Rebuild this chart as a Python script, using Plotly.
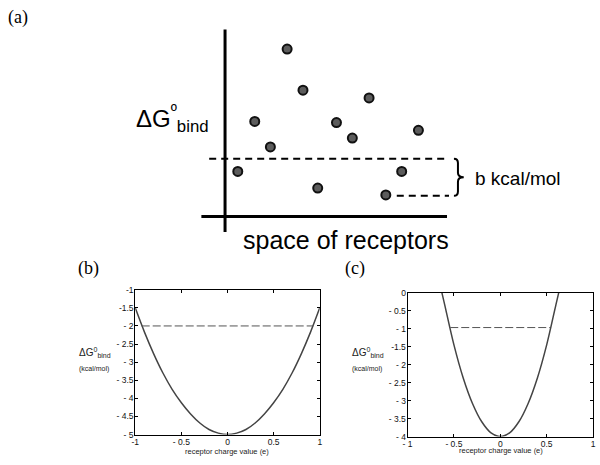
import plotly.graph_objects as go

W, H = 600, 465

# ---- panel (a): schematic of binding free energies over receptor space
receptor_pos = [2.78, 3.49, 1.33, 6.45, 4.99, 8.66, 5.70, 2.03, 0.57, 7.91, 4.15, 7.20]
dg_bind = [7.56, 5.70, 4.29, 5.35, 4.24, 3.89, 3.54, 3.14, 2.03, 2.03, 1.28, 0.97]
dg_best = 0.93        # lower dashed line (best binder)
dg_cutoff = 2.61      # upper dashed line (best + b)

# ---- panel (b): receptor charge scan, cutoff -2 kcal/mol
charge_b = [-1.0, -0.9, -0.8, -0.7, -0.6, -0.5, -0.4, -0.3, -0.2, -0.1, 0.0,
            0.1, 0.2, 0.3, 0.4, 0.5, 0.6, 0.7, 0.8, 0.9, 1.0]
dg_b = [-1.50, -2.17, -2.77, -3.30, -3.75, -4.12, -4.43, -4.68, -4.86, -4.96, -5.00,
        -4.96, -4.86, -4.68, -4.43, -4.12, -3.75, -3.30, -2.77, -2.17, -1.50]
cut_b_x = [-0.93, 0.93]
cut_b_y = [-2.0, -2.0]

# ---- panel (c): narrower well, cutoff about -1 kcal/mol
charge_c = [-0.63, -0.6, -0.5, -0.4, -0.3, -0.2, -0.1, 0.0, 0.1, 0.2, 0.3, 0.4, 0.5, 0.6, 0.63]
dg_c = [0.0, -0.33, -1.45, -2.37, -3.08, -3.59, -3.90, -4.00, -3.90, -3.59, -3.08, -2.37,
        -1.45, -0.33, 0.0]
cut_c_x = [-0.54, 0.54]
cut_c_y = [-0.97, -0.97]

ticks_x = [-1, -0.5, 0, 0.5, 1]
ticktext_xb = ["-1", "- 0.5", "0", "0.5", "1"]
ticktext_xc = ["- 1", "- 0.5", "0", "0.5", "1"]
ticks_yb = [-5, -4.5, -4, -3.5, -3, -2.5, -2, -1.5, -1]
ticktext_yb = ["- 5", "- 4.5", "- 4", "- 3.5", "- 3", "- 2.5", "- 2", "-1.5", "-1"]
ticks_yc = [-4, -3.5, -3, -2.5, -2, -1.5, -1, -0.5, 0]
ticktext_yc = ["- 4", "- 3.5", "- 3", "- 2.5", "- 2", "-1.5", "- 1", "- 0.5", "0"]


def px_x(p):
    return p / W


def px_y(p):
    return 1 - p / H


SANS = "Liberation Sans, Arial, sans-serif"
SERIF = "Liberation Serif, Times New Roman, serif"

fig = go.Figure()

# panel (a) axis lines
fig.add_trace(go.Scatter(x=[0, 0], y=[-0.71, 8.44], mode="lines",
                         line=dict(color="black", width=3), xaxis="x", yaxis="y",
                         showlegend=False, hoverinfo="skip"))
fig.add_trace(go.Scatter(x=[-1.06, 9.94], y=[0, 0], mode="lines",
                         line=dict(color="black", width=3), xaxis="x", yaxis="y",
                         showlegend=False, hoverinfo="skip"))
# dashed lines
fig.add_trace(go.Scatter(x=[-0.71, 10.03], y=[dg_cutoff, dg_cutoff], mode="lines",
                         line=dict(color="black", width=2, dash="7px,5px"),
                         xaxis="x", yaxis="y", showlegend=False, hoverinfo="skip"))
fig.add_trace(go.Scatter(x=[7.69, 10.03], y=[dg_best, dg_best], mode="lines",
                         line=dict(color="black", width=2, dash="7px,5px"),
                         xaxis="x", yaxis="y", showlegend=False, hoverinfo="skip"))
# dots
fig.add_trace(go.Scatter(x=receptor_pos, y=dg_bind, mode="markers",
                         marker=dict(size=9, color="#5c5c5c",
                                     line=dict(color="#111111", width=2)),
                         xaxis="x", yaxis="y", showlegend=False))

# panel (b)
fig.add_trace(go.Scatter(x=charge_b, y=dg_b, mode="lines", line_shape="spline",
                         line=dict(color="#444444", width=1.5), xaxis="x2", yaxis="y2",
                         showlegend=False))
fig.add_trace(go.Scatter(x=cut_b_x, y=cut_b_y, mode="lines",
                         line=dict(color="#555555", width=1, dash="8px,3px"),
                         xaxis="x2", yaxis="y2", showlegend=False))

# panel (c)
fig.add_trace(go.Scatter(x=charge_c, y=dg_c, mode="lines", line_shape="spline",
                         line=dict(color="#444444", width=1.5), xaxis="x3", yaxis="y3",
                         showlegend=False))
fig.add_trace(go.Scatter(x=cut_c_x, y=cut_c_y, mode="lines",
                         line=dict(color="#555555", width=1, dash="8px,3px"),
                         xaxis="x3", yaxis="y3", showlegend=False))

# brace for the b kcal/mol window
x0, x1, x2 = 10.25, 10.43, 10.69
yt, yb = dg_cutoff, dg_best
ym = (yt + yb) / 2
d = 0.2
brace = (f"M {x0},{yt} Q {x1},{yt} {x1},{yt - d} L {x1},{ym + d} "
         f"Q {x1},{ym} {x2},{ym} Q {x1},{ym} {x1},{ym - d} "
         f"L {x1},{yb + d} Q {x1},{yb} {x0},{yb}")
fig.add_shape(type="path", path=brace, xref="x", yref="y",
              line=dict(color="black", width=2))

hidden = dict(visible=False, showgrid=False, zeroline=False, fixedrange=True)
box = dict(showline=True, linecolor="black", linewidth=1, mirror="ticks",
           ticks="inside", ticklen=3, tickcolor="black", showgrid=False,
           zeroline=False, tickfont=dict(family=SANS, size=8.5, color="#111111"))

fig.update_layout(
    width=W, height=H,
    margin=dict(l=0, r=0, t=0, b=0),
    paper_bgcolor="white", plot_bgcolor="rgba(0,0,0,0)",
    xaxis=dict(domain=[px_x(193.6), px_x(494.6)], range=[-1.3, 12], **hidden),
    yaxis=dict(domain=[px_y(236.4), px_y(21.5)], range=[-0.9, 8.6], **hidden),
    xaxis2=dict(domain=[px_x(132), px_x(319)], range=[-1, 1], anchor="y2",
                tickvals=ticks_x, ticktext=ticktext_xb, ticklabelstandoff=-1, **box),
    yaxis2=dict(domain=[px_y(439), px_y(291)], range=[-5, -1], anchor="x2",
                tickvals=ticks_yb, ticktext=ticktext_yb, ticklabelstandoff=-1, **box),
    xaxis3=dict(domain=[px_x(408), px_x(596)], range=[-1, 1], anchor="y3",
                tickvals=ticks_x, ticktext=ticktext_xc, ticklabelstandoff=-1, **box),
    yaxis3=dict(domain=[px_y(441), px_y(294)], range=[-4, 0], anchor="x3",
                tickvals=ticks_yc, ticktext=ticktext_yc, ticklabelstandoff=-1, **box),
)

annotations = [
    dict(text="(a)", x=px_x(1), y=px_y(13), xanchor="left", yanchor="middle",
         font=dict(family=SERIF, size=18, color="black")),
    dict(text="(b)", x=px_x(72), y=px_y(269), xanchor="left", yanchor="middle",
         font=dict(family=SERIF, size=18, color="black")),
    dict(text="(c)", x=px_x(343), y=px_y(269), xanchor="left", yanchor="middle",
         font=dict(family=SERIF, size=18, color="black")),
    dict(text="ΔG<sup>º</sup><sub>bind</sub>", x=px_x(209), y=px_y(117),
         xanchor="right", yanchor="middle",
         font=dict(family=SANS, size=24, color="black")),
    dict(text="space of receptors", x=px_x(346), y=px_y(240), xanchor="center",
         yanchor="middle", font=dict(family=SANS, size=25, color="black")),
    dict(text="b kcal/mol", x=px_x(474), y=px_y(177), xanchor="left",
         yanchor="middle", font=dict(family=SANS, size=19, color="black")),
]
for left, xc, ymid in [(73, 225.5, 456), (350, 503, 455)]:
    annotations += [
        dict(text="ΔG<sup>0</sup><sub>bind</sub>", x=px_x(left), y=px_y(355),
             xanchor="left", yanchor="middle",
             font=dict(family=SANS, size=10, color="#222222")),
        dict(text="(kcal/mol)", x=px_x(left), y=px_y(372), xanchor="left",
             yanchor="middle", font=dict(family=SANS, size=7, color="#222222")),
        dict(text="receptor charge value (e)", x=px_x(xc), y=px_y(ymid),
             xanchor="center", yanchor="middle",
             font=dict(family=SANS, size=7.5, color="#222222")),
    ]
for a in annotations:
    a.update(xref="paper", yref="paper", showarrow=False)
fig.update_layout(annotations=annotations)

# the page's default body margin would push the figure 8px off the corner
fig.write_html("out.html", config={"displayModeBar": False},
               post_script="document.body.style.margin = '0px';")
